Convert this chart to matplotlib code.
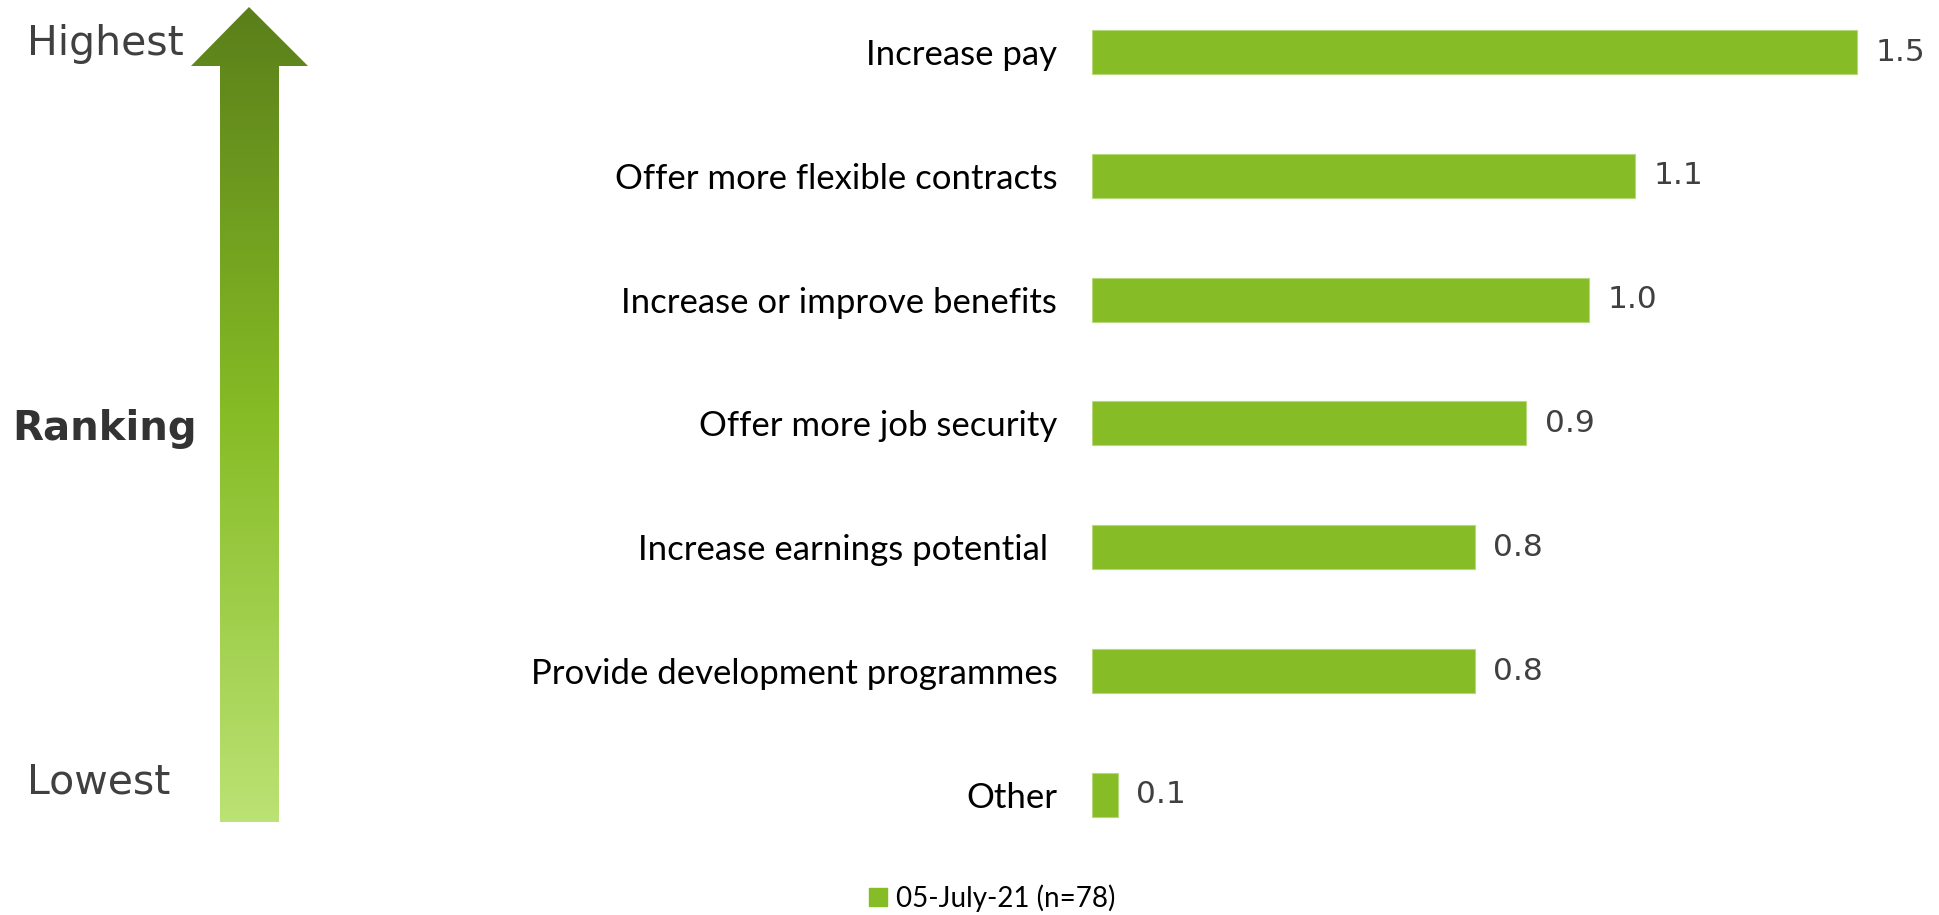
import numpy as np
import matplotlib
matplotlib.use('Agg')
import matplotlib.pyplot as plt
from matplotlib.colors import LinearSegmentedColormap
from matplotlib.patches import Polygon, Patch

# Survey data: what would make staff stay (average ranking score)
categories = [
    "Increase pay",
    "Offer more flexible contracts",
    "Increase or improve benefits",
    "Offer more job security",
    "Increase earnings potential ",
    "Provide development programmes",
    "Other",
]
scores = [1.50, 1.065, 0.975, 0.851, 0.75, 0.75, 0.05]
series_name = "05-July-21 (n=78)"

W, H = 1939, 915
BAR = "#86bc25"
GREY = "#404040"
LABEL_FONT = ["Lato", "DejaVu Sans"]

fig = plt.figure(figsize=(W / 100, H / 100), dpi=100)

# --- bar chart -------------------------------------------------------------
left_px, unit_px = 1092, 510.0
ax = fig.add_axes([left_px / W, 0, (W - left_px) / W, 1])
y = np.arange(len(categories))
ax.barh(y, scores, height=0.355, color=BAR, edgecolor="#b5d97a", linewidth=0.8)
ax.set_xlim(0, (W - left_px) / unit_px)
ax.set_ylim(6.97, -0.42)
ax.set_yticks(y)
ax.set_yticklabels(categories, fontsize=25, family=LABEL_FONT, color="black")
ax.tick_params(axis="y", length=0, pad=25)
ax.set_xticks([])
for s in ax.spines.values():
    s.set_visible(False)

for yi, v in zip(y, scores):
    ax.annotate(f"{v:.1f}", (v, yi), xytext=(13.5, 0), textcoords="offset points",
                va="center", ha="left", fontsize=22.5, color=GREY,
                family="DejaVu Sans")

ax.legend(handles=[Patch(color=BAR, label=series_name)],
          loc="center", bbox_to_anchor=(992 / W, 17 / H),
          bbox_transform=fig.transFigure,
          frameon=False, prop={"family": LABEL_FONT, "size": 20},
          handlelength=0.65, handleheight=0.65, handletextpad=0.3)

# --- ranking arrow ---------------------------------------------------------
ov = fig.add_axes([0, 0, 1, 1])
ov.set_xlim(0, W)
ov.set_ylim(H, 0)
ov.axis("off")

arrow = [(249, 7), (191, 66), (220, 66), (220, 822),
         (279, 822), (279, 66), (308, 66)]
cmap = LinearSegmentedColormap.from_list(
    "rank", ["#5a7f1a", "#86bc25", "#bbe274"])
grad = np.linspace(0, 1, 256).reshape(-1, 1)
img = ov.imshow(grad, cmap=cmap, extent=(191, 308, 822, 7), aspect="auto")
poly = Polygon(arrow, closed=True, facecolor="none", edgecolor="none",
               transform=ov.transData)
ov.add_patch(poly)
img.set_clip_path(poly)

ov.text(27, 55, "Highest", fontsize=29.5, color=GREY, family="DejaVu Sans",
        ha="left", va="baseline")
ov.text(27, 794, "Lowest", fontsize=29.5, color=GREY, family="DejaVu Sans",
        ha="left", va="baseline")
ov.text(12, 440, "Ranking", fontsize=29, color="#333333", weight="bold",
        family="DejaVu Sans", ha="left", va="baseline")

fig.savefig("out.png", dpi=100)
